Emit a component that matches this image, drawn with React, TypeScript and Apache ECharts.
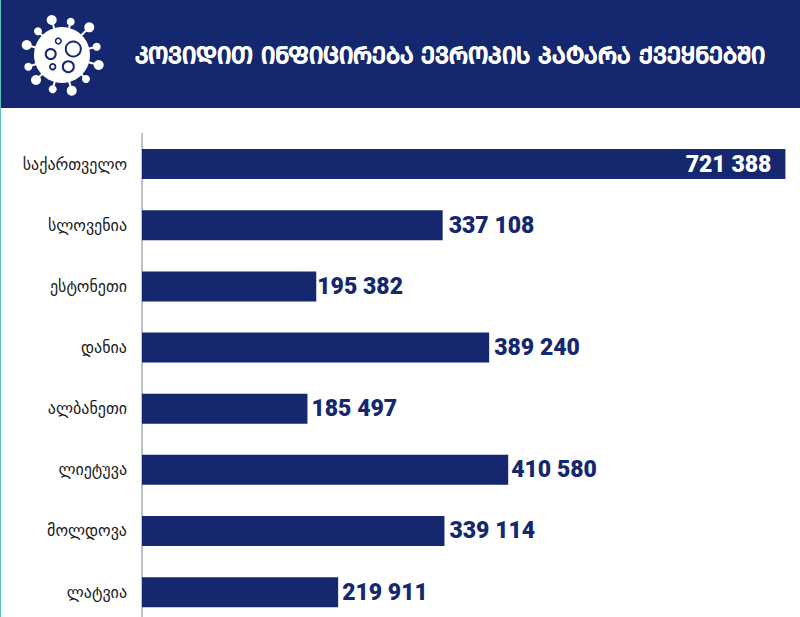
import React, { useEffect, useRef } from "react";
import * as echarts from "echarts";

const titleText = "ᲙᲝᲕᲘᲓᲘᲗ ᲘᲜᲤᲘᲪᲘᲠᲔᲑᲐ ᲔᲕᲠᲝᲞᲘᲡ ᲞᲐᲢᲐᲠᲐ ᲥᲕᲔᲧᲜᲔᲑᲨᲘ";
const categories = ["საქართველო", "სლოვენია", "ესტონეთი", "დანია", "ალბანეთი", "ლიეტუვა", "მოლდოვა", "ლატვია"];
const values = [721388, 337108, 195382, 389240, 185497, 410580, 339114, 219911];
const labelGaps = [0, 6, 1, 5, 4, 3, 5, 4];

const NAVY = "#14276f";
const spikes = [
  [51.7, 20, 5], [70.7, 21.7, 4], [89.3, 27.3, 5], [38, 31.3, 4], [26.7, 45, 5], [96.7, 46.7, 4],
  [98.7, 65, 5], [28.3, 66.7, 4], [36, 80, 5], [86, 79, 4], [52.7, 89.3, 4], [71.7, 90.7, 5],
];
const rings = [[73.3, 49, 7.5, 2], [50.7, 54, 5, 2], [58.3, 41, 2.8, 1.6], [68.3, 66.7, 5.5, 2], [52.7, 66.7, 2.8, 1.8]];

const fmt = (v: number) => {
  const s = String(v);
  return s.slice(0, s.length - 3) + " " + s.slice(s.length - 3);
};

export default function App() {
  const ref = useRef<HTMLDivElement>(null);
  useEffect(() => {
    const chart = echarts.init(ref.current!, undefined, { renderer: "svg" });
    const icon: any[] = [];
    spikes.forEach(([x, y, r]) => {
      icon.push({ type: "line", shape: { x1: 62, y1: 55, x2: x, y2: y }, style: { stroke: "#fff", lineWidth: 2 } });
      icon.push({ type: "circle", shape: { cx: x, cy: y, r }, style: { fill: "#fff" } });
    });
    icon.push({ type: "circle", shape: { cx: 62, cy: 55, r: 28 }, style: { fill: "#fff" } });
    rings.forEach(([x, y, r, w]) => {
      icon.push({ type: "circle", shape: { cx: x, cy: y, r }, style: { fill: "none", stroke: NAVY, lineWidth: w } });
    });
    chart.setOption({
      animation: false,
      backgroundColor: "#fff",
      grid: { left: 142, top: 133.5, width: 660, height: 489.2, containLabel: false, outerBoundsMode: "none" },
      xAxis: { type: "value", min: 0, max: 740000, show: false },
      yAxis: {
        type: "category",
        inverse: true,
        data: categories,
        axisTick: { show: false },
        axisLine: { show: true, lineStyle: { color: "#a9adb5", width: 1.5 } },
        axisLabel: { color: "#1a1a1a", fontSize: 16, fontFamily: "DejaVu Sans", margin: 15 },
      },
      series: [
        {
          type: "bar",
          barWidth: 30,
          silent: true,
          itemStyle: { color: NAVY },
          data: values.map((v, i) => ({
            value: v,
            label: {
              show: true,
              position: i === 0 ? "insideRight" : "right",
              distance: i === 0 ? 14 : labelGaps[i],
              color: i === 0 ? "#fff" : NAVY,
              fontFamily: "Roboto",
              fontWeight: 900,
              fontSize: 23,
              formatter: () => fmt(v),
            },
          })),
        },
      ],
      graphic: [
        { type: "rect", z: 0, shape: { x: 0, y: 0, width: 800, height: 108 }, style: { fill: NAVY } },
        { type: "rect", z: 1, shape: { x: 0, y: 0, width: 1, height: 617 }, style: { fill: "#5fbfc0" } },
        { type: "group", z: 2, children: icon },
        {
          type: "text", z: 3, x: 450, y: 55,
          style: { text: titleText, fill: "#fff", stroke: "#fff", lineWidth: 0.5, font: "bold 22.6px 'DejaVu Sans'", align: "center", verticalAlign: "middle" },
        },
      ],
    });
    return () => chart.dispose();
  }, []);
  return <div ref={ref} style={{ position: "fixed", left: 0, top: 0, width: 800, height: 617 }} />;
}
